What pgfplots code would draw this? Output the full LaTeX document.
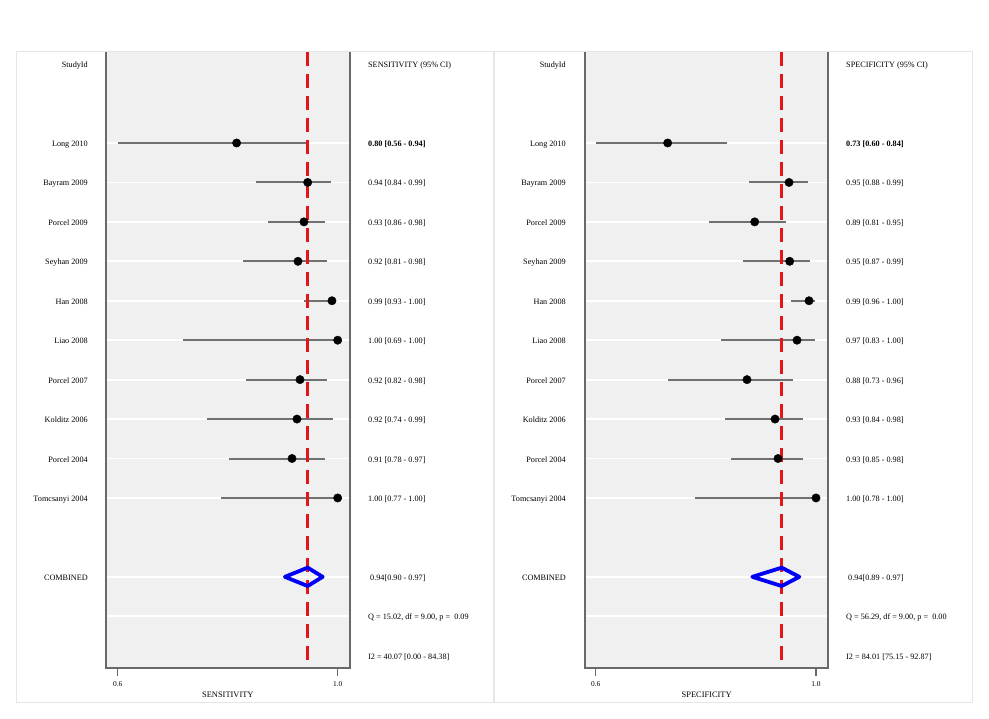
\documentclass[border=0pt]{standalone}
\usepackage{fontspec}
\setmainfont{Liberation Serif}
\usepackage{pgfplots}
\usepackage{pgfplotstable}
\pgfplotsset{compat=1.18}

\definecolor{plotbg}{RGB}{240,240,240}
\definecolor{axgray}{RGB}{105,105,105}
\definecolor{cigray}{RGB}{112,112,112}
\definecolor{dashred}{RGB}{226,22,22}
\definecolor{diamblue}{RGB}{0,0,245}
\definecolor{framegray}{RGB}{230,230,230}

% row: position from the top (StudyId = 0); est, lo, hi as drawn
\pgfplotstableread{
row est lo hi
2 0.8163 0.6005 0.9465
3 0.9455 0.8515 0.9873
4 0.9387 0.8738 0.9769
5 0.9278 0.8284 0.9805
6 0.9896 0.9387 0.9970
7 1.0000 0.7193 1.0000
8 0.9315 0.8333 0.9805
9 0.9260 0.7624 0.9915
10 0.9170 0.8024 0.9769
11 1.0000 0.7878 1.0000
}\sens
\pgfplotstableread{
row est lo hi
2 0.7307 0.6005 0.8379
3 0.9510 0.8783 0.9855
4 0.8887 0.8057 0.9455
5 0.9522 0.8675 0.9891
6 0.9873 0.9546 0.9982
7 0.9655 0.8275 0.9982
8 0.8747 0.7313 0.9577
9 0.9256 0.8348 0.9758
10 0.9310 0.8457 0.9758
11 1.0000 0.7803 1.0000
}\spec

\pgfplotsset{
  forest/.style={
    scale only axis, height=616.3pt,
    ymin=-15.319, ymax=0.307,
    axis background/.style={fill=plotbg},
    axis line style={draw=none},
    ytick={-2,-3,-4,-5,-6,-7,-8,-9,-10,-11,-13,-14},
    yticklabels={}, ytick style={draw=none},
    ymajorgrids, major grid style={white, line width=1.8pt},
    xtick={0.6,1.0}, xticklabels={0.6,1.0}, xtick pos=left,
    tick align=outside, major tick length=8pt,
    xtick style={axgray, line width=1.6pt},
    xticklabel style={font=\fontsize{7.4}{8}\selectfont, yshift=-2pt},
    clip=false,
  },
  ci/.style={only marks, mark=none,
    error bars/.cd, x dir=both, x explicit, error mark=none,
    error bar style={cigray, line width=2pt}},
  dots/.style={only marks, mark=*, mark size=4.2pt, black},
}
\tikzset{txt/.style={font=\fontsize{8.2}{10}\selectfont, inner sep=0pt, yshift=-3.5pt}}

\begin{document}
\begin{tikzpicture}
\useasboundingbox (0pt,0pt) rectangle (989pt,-719pt);
\draw[framegray, line width=1pt] (16pt,-52pt) rectangle (493pt,-702pt);
\draw[framegray, line width=1pt] (494pt,-52pt) rectangle (972pt,-702pt);

% ---------------- sensitivity ----------------
\begin{axis}[forest, at={(105.7pt,-668.3pt)}, anchor=south west,
  width=244.3pt, xmin=0.5782, xmax=1.0224]
\addplot[ci] table[x=est, y expr=-\thisrow{row},
  x error minus expr=\thisrow{est}-\thisrow{lo},
  x error plus expr=\thisrow{hi}-\thisrow{est}] {\sens};
\addplot[dashred, line width=3pt, dash pattern=on 14pt off 8pt]
  coordinates {(0.9455,0.307) (0.9455,-15.319)};
\addplot[diamblue, line width=3.8pt, line join=round]
  coordinates {(0.904,-13) (0.9455,-12.767) (0.9727,-13) (0.9455,-13.233)} -- cycle;
\addplot[dots] table[x=est, y expr=-\thisrow{row}] {\sens};
\draw[axgray, line width=2pt] (rel axis cs:0,1) -- (rel axis cs:0,0)
  -- (rel axis cs:1,0) -- (rel axis cs:1,1);
\def\nx{0.546}\def\vx{1.0551}
\node[txt, anchor=base east] at (axis cs:\nx,0) {StudyId};
\node[txt, anchor=base east] at (axis cs:\nx,-2) {Long 2010};
\node[txt, anchor=base east] at (axis cs:\nx,-3) {Bayram 2009};
\node[txt, anchor=base east] at (axis cs:\nx,-4) {Porcel 2009};
\node[txt, anchor=base east] at (axis cs:\nx,-5) {Seyhan 2009};
\node[txt, anchor=base east] at (axis cs:\nx,-6) {Han 2008};
\node[txt, anchor=base east] at (axis cs:\nx,-7) {Liao 2008};
\node[txt, anchor=base east] at (axis cs:\nx,-8) {Porcel 2007};
\node[txt, anchor=base east] at (axis cs:\nx,-9) {Kolditz 2006};
\node[txt, anchor=base east] at (axis cs:\nx,-10) {Porcel 2004};
\node[txt, anchor=base east] at (axis cs:\nx,-11) {Tomcsanyi 2004};
\node[txt, anchor=base east] at (axis cs:\nx,-13) {COMBINED};
\node[txt, anchor=base west] at (axis cs:\vx,0) {SENSITIVITY (95\% CI)};
\node[txt, anchor=base west] at (axis cs:\vx,-2) {\bfseries 0.80 [0.56 - 0.94]};
\node[txt, anchor=base west] at (axis cs:\vx,-3) {0.94 [0.84 - 0.99]};
\node[txt, anchor=base west] at (axis cs:\vx,-4) {0.93 [0.86 - 0.98]};
\node[txt, anchor=base west] at (axis cs:\vx,-5) {0.92 [0.81 - 0.98]};
\node[txt, anchor=base west] at (axis cs:\vx,-6) {0.99 [0.93 - 1.00]};
\node[txt, anchor=base west] at (axis cs:\vx,-7) {1.00 [0.69 - 1.00]};
\node[txt, anchor=base west] at (axis cs:\vx,-8) {0.92 [0.82 - 0.98]};
\node[txt, anchor=base west] at (axis cs:\vx,-9) {0.92 [0.74 - 0.99]};
\node[txt, anchor=base west] at (axis cs:\vx,-10) {0.91 [0.78 - 0.97]};
\node[txt, anchor=base west] at (axis cs:\vx,-11) {1.00 [0.77 - 1.00]};
\node[txt, anchor=base west, xshift=2pt] at (axis cs:\vx,-13) {0.94[0.90 - 0.97]};
\node[txt, anchor=base west] at (axis cs:\vx,-14) {Q = 15.02, df = 9.00, p =\ \ 0.09};
\node[txt, anchor=base west] at (axis cs:\vx,-15) {I2 = 40.07 [0.00 - 84.38]};
\node[font=\fontsize{8.4}{10}\selectfont, inner sep=0pt] at (rel axis cs:0.5,0) [yshift=-26.2pt] {SENSITIVITY};
\end{axis}

% ---------------- specificity ----------------
\begin{axis}[forest, at={(585pt,-668.3pt)}, anchor=south west,
  width=243.3pt, xmin=0.5806, xmax=1.0223]
\addplot[ci] table[x=est, y expr=-\thisrow{row},
  x error minus expr=\thisrow{est}-\thisrow{lo},
  x error plus expr=\thisrow{hi}-\thisrow{est}] {\spec};
\addplot[dashred, line width=3pt, dash pattern=on 14pt off 8pt]
  coordinates {(0.9377,0.307) (0.9377,-15.319)};
\addplot[diamblue, line width=3.8pt, line join=round]
  coordinates {(0.8844,-13) (0.9377,-12.767) (0.9697,-13) (0.9377,-13.233)} -- cycle;
\addplot[dots] table[x=est, y expr=-\thisrow{row}] {\spec};
\draw[axgray, line width=2pt] (rel axis cs:0,1) -- (rel axis cs:0,0)
  -- (rel axis cs:1,0) -- (rel axis cs:1,1);
\def\nx{0.5461}\def\vx{1.0545}
\node[txt, anchor=base east] at (axis cs:\nx,0) {StudyId};
\node[txt, anchor=base east] at (axis cs:\nx,-2) {Long 2010};
\node[txt, anchor=base east] at (axis cs:\nx,-3) {Bayram 2009};
\node[txt, anchor=base east] at (axis cs:\nx,-4) {Porcel 2009};
\node[txt, anchor=base east] at (axis cs:\nx,-5) {Seyhan 2009};
\node[txt, anchor=base east] at (axis cs:\nx,-6) {Han 2008};
\node[txt, anchor=base east] at (axis cs:\nx,-7) {Liao 2008};
\node[txt, anchor=base east] at (axis cs:\nx,-8) {Porcel 2007};
\node[txt, anchor=base east] at (axis cs:\nx,-9) {Kolditz 2006};
\node[txt, anchor=base east] at (axis cs:\nx,-10) {Porcel 2004};
\node[txt, anchor=base east] at (axis cs:\nx,-11) {Tomcsanyi 2004};
\node[txt, anchor=base east] at (axis cs:\nx,-13) {COMBINED};
\node[txt, anchor=base west] at (axis cs:\vx,0) {SPECIFICITY (95\% CI)};
\node[txt, anchor=base west] at (axis cs:\vx,-2) {\bfseries 0.73 [0.60 - 0.84]};
\node[txt, anchor=base west] at (axis cs:\vx,-3) {0.95 [0.88 - 0.99]};
\node[txt, anchor=base west] at (axis cs:\vx,-4) {0.89 [0.81 - 0.95]};
\node[txt, anchor=base west] at (axis cs:\vx,-5) {0.95 [0.87 - 0.99]};
\node[txt, anchor=base west] at (axis cs:\vx,-6) {0.99 [0.96 - 1.00]};
\node[txt, anchor=base west] at (axis cs:\vx,-7) {0.97 [0.83 - 1.00]};
\node[txt, anchor=base west] at (axis cs:\vx,-8) {0.88 [0.73 - 0.96]};
\node[txt, anchor=base west] at (axis cs:\vx,-9) {0.93 [0.84 - 0.98]};
\node[txt, anchor=base west] at (axis cs:\vx,-10) {0.93 [0.85 - 0.98]};
\node[txt, anchor=base west] at (axis cs:\vx,-11) {1.00 [0.78 - 1.00]};
\node[txt, anchor=base west, xshift=2pt] at (axis cs:\vx,-13) {0.94[0.89 - 0.97]};
\node[txt, anchor=base west] at (axis cs:\vx,-14) {Q = 56.29, df = 9.00, p =\ \ 0.00};
\node[txt, anchor=base west] at (axis cs:\vx,-15) {I2 = 84.01 [75.15 - 92.87]};
\node[font=\fontsize{8.4}{10}\selectfont, inner sep=0pt] at (rel axis cs:0.5,0) [yshift=-26.2pt] {SPECIFICITY};
\end{axis}
\end{tikzpicture}
\end{document}
